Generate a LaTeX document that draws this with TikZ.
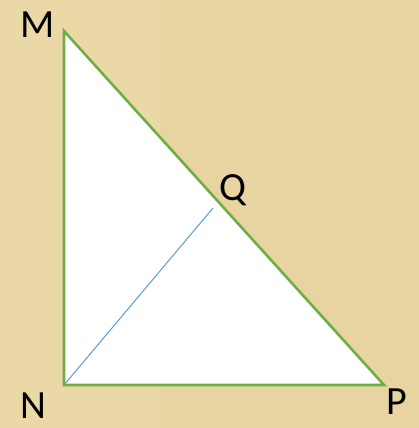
\documentclass[tikz,border=0pt]{standalone}
\usepackage{fontspec}
\setmainfont{Carlito}
\definecolor{parch}{RGB}{232,212,160}
\definecolor{parchlight}{RGB}{238,222,178}
\definecolor{edgegreen}{RGB}{112,173,71}
\definecolor{lineblue}{RGB}{91,155,213}
\begin{document}
\begin{tikzpicture}[x=1pt,y=-1pt,
  vlabel/.style={font=\fontsize{40}{44}\selectfont, inner sep=0pt, text=black},
  edge/.style={draw=edgegreen, line width=2.6pt, line join=miter},
  seg/.style={draw=lineblue, line width=1pt}]
\fill[parch] (0,0) rectangle (419,428);
\fill[parchlight, opacity=0.4] (0,0) rectangle (160,428);
\useasboundingbox (0,0) rectangle (419,428);
\coordinate (m) at (64,31);
\coordinate (n) at (64,385);
\coordinate (p) at (384,385);
\coordinate (q) at (213,208);
\fill[white] (m) -- (n) -- (p) -- cycle;
\draw[seg] (n) -- (q);
\draw[edge] (m) -- (n) -- (p) -- cycle;
\node[vlabel] (M) at (38,25) {M};
\node[vlabel] (N) at (33,406) {N};
\node[vlabel] (P) at (397,402) {P};
\node[vlabel] (Q) at (233,190) {Q};
\end{tikzpicture}
\end{document}
